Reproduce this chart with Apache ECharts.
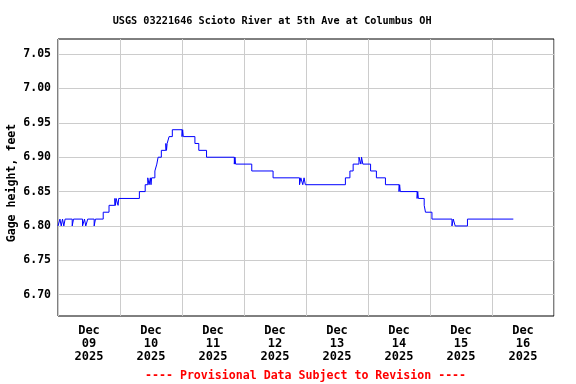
<!DOCTYPE html>
<html>
<head>
<meta charset="utf-8">
<script src="https://cdn.jsdelivr.net/npm/echarts@6/dist/echarts.min.js"></script>
<style>
html,body{margin:0;padding:0;background:#fff;}
#chart{width:576px;height:384px;}
</style>
</head>
<body>
<div id="chart"></div>
<script>
// Time in hours since 2025-12-09 00:00 (local), gage height in feet (step changes)
var hours = [0, 0.75, 1.25, 1.75, 2.25, 2.75, 5.5, 6, 9.5, 10.25, 10.75, 11.5, 14, 14.5,
  17.5, 19.75, 22, 22.25, 22.5, 23.25, 23.5, 31.5, 33.75, 34.75, 35.25, 35.75, 36, 36.25,
  37.5, 38.25, 38.75, 40, 41.75, 42, 42.25, 43, 44.25, 48, 48.25, 48.5, 53, 54.5, 57.5,
  68.25, 68.5, 68.75, 75, 83.25, 93.5, 94, 94.75, 95.25, 95.75, 111.25, 113, 114.25,
  116.5, 117.25, 117.5, 118, 121, 123.25, 126.75, 132, 132.25, 132.5, 139, 139.25, 139.5,
  141.75, 142.25, 144.75, 152.5, 153, 153.75, 158.5, 176.25];
var gageHeight = [6.80, 6.81, 6.80, 6.81, 6.80, 6.81, 6.80, 6.81, 6.80, 6.81, 6.80, 6.81, 6.80, 6.81,
  6.82, 6.83, 6.84, 6.83, 6.84, 6.83, 6.84, 6.85, 6.86, 6.87, 6.86, 6.87, 6.86, 6.87,
  6.88, 6.89, 6.90, 6.91, 6.92, 6.91, 6.92, 6.93, 6.94, 6.93, 6.94, 6.93, 6.92, 6.91, 6.90,
  6.89, 6.90, 6.89, 6.88, 6.87, 6.86, 6.87, 6.86, 6.87, 6.86, 6.87, 6.88, 6.89,
  6.90, 6.89, 6.90, 6.89, 6.88, 6.87, 6.86, 6.85, 6.86, 6.85, 6.84, 6.85, 6.84,
  6.83, 6.82, 6.81, 6.80, 6.81, 6.80, 6.81, 6.81];
var dayLabels = ['Dec\n09\n2025', 'Dec\n10\n2025', 'Dec\n11\n2025', 'Dec\n12\n2025',
  'Dec\n13\n2025', 'Dec\n14\n2025', 'Dec\n15\n2025', 'Dec\n16\n2025'];
var yTicks = [6.70, 6.75, 6.80, 6.85, 6.90, 6.95, 7.00, 7.05];
var titleText = 'USGS 03221646 Scioto River at 5th Ave at Columbus OH';
var footerText = '---- Provisional Data Subject to Revision ----';
var yName = 'Gage height, feet';

var FONT = '"DejaVu Sans Mono", monospace';
var seriesData = hours.map(function (h, i) { return [h, gageHeight[i]]; });

var chart = echarts.init(document.getElementById('chart'), null, {renderer: 'canvas'});
chart.setOption({
  animation: false,
  backgroundColor: '#ffffff',
  title: [
    {text: titleText, left: 107.7, top: 11,
     textStyle: {fontFamily: FONT, fontWeight: 'bold', fontSize: 10.2, color: '#000'}},
    {text: footerText, left: 140, top: 365,
     textStyle: {fontFamily: FONT, fontWeight: 'bold', fontSize: 11.6, color: '#ff0000'}}
  ],
  grid: {left: 58, right: 22, top: 39, bottom: 68, containLabel: false, outerBoundsMode: 'none',
    show: true, borderColor: '#000', borderWidth: 1, backgroundColor: 'transparent'},
  xAxis: [
    {type: 'value', min: 0, max: 192, interval: 24,
     axisLine: {show: false}, axisTick: {show: false}, axisLabel: {show: false},
     splitLine: {show: true, lineStyle: {color: '#cccccc', width: 1}}},
    {type: 'category', data: dayLabels, position: 'bottom', boundaryGap: true,
     axisLine: {show: false}, axisTick: {show: false}, splitLine: {show: false},
     axisLabel: {fontFamily: FONT, fontWeight: 'bold', fontSize: 12, color: '#000', lineHeight: 13, margin: 8, interval: 0}}
  ],
  yAxis: {
    type: 'value', min: 6.669, max: 7.072,
    name: yName, nameLocation: 'middle', nameRotate: 90, nameGap: 40.5, nameMoveOverlap: false,
    nameTextStyle: {fontFamily: FONT, fontWeight: 'bold', fontSize: 11.6, color: '#000', padding: [0, 11, 0, 0]},
    axisLine: {show: false},
    axisTick: {show: false, customValues: yTicks},
    axisLabel: {customValues: yTicks, fontFamily: FONT, fontWeight: 'bold', fontSize: 11.5, color: '#000', margin: 7,
      formatter: function (v) { return v.toFixed(2); }},
    splitLine: {show: true, lineStyle: {color: '#cccccc', width: 1}}
  },
  series: [{
    type: 'line', xAxisIndex: 0, data: seriesData, step: 'end', showSymbol: false,
    lineStyle: {color: '#0000ff', width: 1}, clip: true
  }]
});
</script>
</body>
</html>
